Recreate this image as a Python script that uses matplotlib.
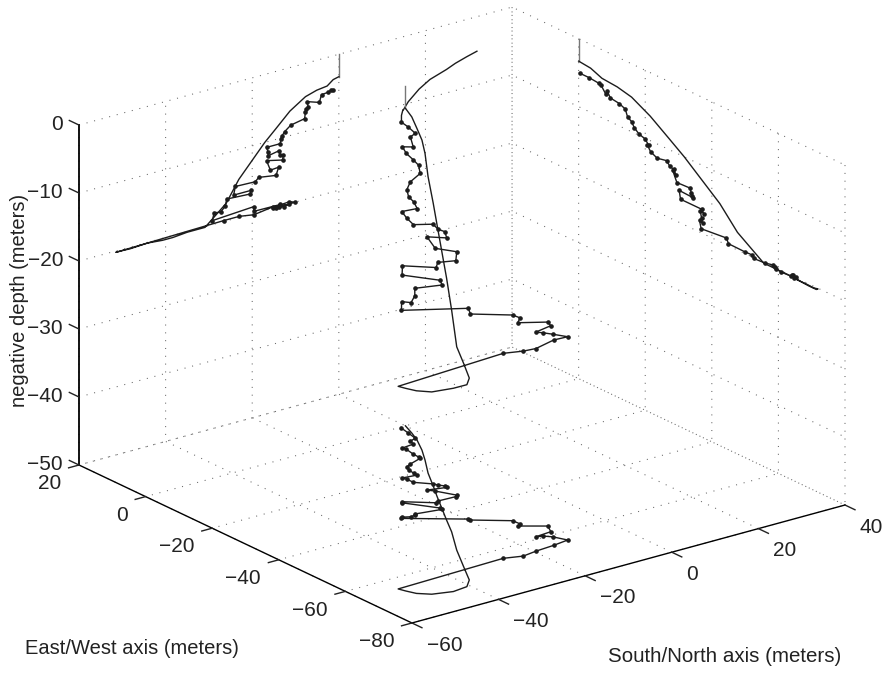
import numpy as np
import matplotlib
matplotlib.use("Agg")
import matplotlib.pyplot as plt
from mpl_toolkits.mplot3d import proj3d

plt.rcParams["font.family"] = ["Liberation Sans", "DejaVu Sans"]

# ticks
sn_ticks = [-60, -40, -20, 0, 20, 40]
ew_ticks = [-80, -60, -40, -20, 0, 20]
depth_ticks = [-50, -40, -30, -20, -10, 0]

# surface drift, only seen in the 3D track
surface_ew = [6.1, 5.0, 3.6, 2.1, -0.1, -2.8, -6.7, -9.5]
surface_sn = [21.2, 18.0, 14.3, 11.1, 5.6, 1.0, -4.5, -7.8]
surface_z = [0, 0, 0, 0, 0, 0, 0, 0]

# descent, smooth line
descent_ew = [0, 0, -3.6, -7, -11.6, -15.9, -21.5, -27.2, -31.7, -42.4,
              -47.7, -55.6, -63, -69, -71.4, -71.9, -70.6, -68.6, -66.5, -64.8]
descent_sn = [0, 0, -1.3, -2.7, -5.1, -7.7, -11.3, -14.5, -17.1, -23.1,
              -26, -30.9, -35, -38.3, -40.7, -44.2, -48.2, -50.2, -51, -51.5]
descent_z = [0, -3.3, -3.5, -4.2, -4.4, -4.9, -6.4, -8.4, -10.0, -14.4,
             -17.4, -20.1, -20.1, -20.3, -20.3, -20.1, -20.25, -20.2, -20.2, -20.2]

# ascent, line with dots
ascent_ew = [-64.0, -65.3, -64.7, -64.3, -63.7, -60.8, -59.4, -58.9, -58.5, -55.9,
             -52.6, -52.0, -49.9, -45.0, -44.4, -36.8, -36.3, -37.2, -36.9, -36.5,
             -37.6, -36.9, -30.6, -30.2, -34.3, -33.8, -34.0, -33.5, -29.5, -28.2,
             -29.3, -28.5, -27.4, -26.4, -23.6, -21.6, -20.6, -21.1, -19.9, -18.1,
             -16.7, -15.9, -14.7, -14.0, -12.2, -9.5, -8.6, -8.2, -6.7, -6.1,
             -3.2, -0.5, -0.5, -0.4]
ascent_sn = [-26.6, -23.0, -19.6, -15.2, -11.5, -12.7, -13.9, -15.2, -11.4, -10.1,
             -14.5, -13.5, -13.6, -19.6, -19.6, -29.2, -28.8, -27.3, -26.2, -25.9,
             -20.5, -20.3, -24.3, -23.9, -19.3, -18.5, -14.5, -13.9, -15.8, -16.7,
             -13.0, -12.8, -13.5, -13.9, -16.3, -16.3, -16.7, -13.5, -13.4, -13.2,
             -12.5, -11.1, -7.9, -7.7, -7.6, -7.1, -7.3, -4.5, -4.0, -2.4,
             -1.8, -1.3, -1.3, -0.9]
ascent_z = [-19.85, -19.85, -20.2, -19.8, -20.1, -20.2, -20.1, -19.9, -19.7, -20.0,
            -20.1, -19.7, -19.75, -19.7, -19.0, -19.4, -18.3, -18.5, -17.75, -16.8,
            -17.0, -16.5, -16.5, -15.3, -15.4, -14.9, -15.3, -14.2, -14.3, -12.75,
            -13.3, -12.6, -12.4, -11.8, -12.1, -11.6, -10.8, -10.8, -10.1, -9.8,
            -9.2, -8.5, -8.1, -7.1, -6.7, -6.5, -5.7, -6.3, -5.25, -5.15,
            -5.0, -5.0, -4.0, -3.3]


def plot_views(ax, ew, sn, z, **style):
    # the track itself, then its shadows on the two back walls and the floor
    ew, sn, z = np.array(ew), np.array(sn), np.array(z)
    ax.plot(sn, ew, z, **style)
    ax.plot(sn, np.full(len(ew), ew_ticks[-1]), z, **style)
    ax.plot(np.full(len(ew), sn_ticks[-1]), ew, z, **style)
    ax.plot(sn, ew, np.full(len(ew), depth_ticks[0]), **style)


def corner_px(ax, sn, ew, z):
    x2, y2, _ = proj3d.proj_transform(sn, ew, z, ax.get_proj())
    return ax.transData.transform((x2, y2))


def fit_axes(fig, ax):
    # move the axes so the floor corners land where they should
    for i in range(2):
        fig.canvas.draw()
        left = corner_px(ax, -60, 20, -50)
        right = corner_px(ax, 40, -80, -50)
        scale = (845 - 79) / (right[0] - left[0])
        pos = ax.get_position(original=True)
        ax.set_position([pos.x0, pos.y0, pos.width * scale, pos.height * scale])
        fig.canvas.draw()
        left = corner_px(ax, -60, 20, -50)
        pos = ax.get_position(original=True)
        ax.set_position([pos.x0 + (79 - left[0]) / 885,
                         pos.y0 + (673 - 465 - left[1]) / 673,
                         pos.width, pos.height])


def tick_text(ticks):
    return [str(t).replace("-", "\u2212") for t in ticks]


fig = plt.figure(figsize=(8.85, 6.73), dpi=100)
ax = fig.add_axes([-0.2, -0.2, 1.4, 1.4], projection="3d", proj_type="ortho")
ax.view_init(elev=21.07, azim=232.85)
ax.set_box_aspect((543.3, 551.3, 364.3))
ax.set_facecolor("none")

tick_color = "#222222"
ax.set_xlim(-60, 40)
ax.set_ylim(-80, 20)
ax.set_zlim(-50, 0)
ax.set_xticks(sn_ticks, tick_text(sn_ticks), ha="left", va="center")
ax.set_yticks(ew_ticks, tick_text(ew_ticks), ha="right", va="center")
ax.set_zticks(depth_ticks, tick_text(depth_ticks), ha="right", va="center")
ax.tick_params(labelsize=15, labelcolor=tick_color)
ax.tick_params(axis="x", pad=5.8)
ax.tick_params(axis="y", pad=4.7)
ax.tick_params(axis="z", pad=-1.5)

for axis in (ax.xaxis, ax.yaxis, ax.zaxis):
    axis.set_pane_color((1, 1, 1, 0))
    axis.pane.set_edgecolor("none")
    axis._axinfo["grid"].update(color="#666666", linewidth=0.75, linestyle=(0, (1, 6.5)))
    axis._axinfo["tick"].update(inward_factor=0, outward_factor=0)
    axis._axinfo["axisline"]["color"] = "#222222"
    axis.line.set_linewidth(1.0)
ax.zaxis._axinfo["axisline"]["color"] = "#555555"
ax.zaxis.line.set_linewidth(1.3)

# tick marks point outward along the other floor axis
for t in sn_ticks:
    ax.plot([t, t], [-80, -83], [-50, -50], color=tick_color, lw=1.0)
for t in ew_ticks:
    ax.plot([-60, -62.4], [t, t], [-50, -50], color=tick_color, lw=1.0)
for t in depth_ticks:
    ax.plot([-60, -60], [20, 22.9], [t, t], color=tick_color, lw=1.0)

ink = "#1c1c1c"
ax.plot(surface_sn, surface_ew, surface_z, color=ink, lw=1.0)
plot_views(ax, descent_ew[:2], descent_sn[:2], descent_z[:2], color="#777777", lw=1.0)
plot_views(ax, descent_ew[1:] + ascent_ew[:1], descent_sn[1:] + ascent_sn[:1],
           descent_z[1:] + ascent_z[:1], color=ink, lw=1.0)
plot_views(ax, ascent_ew[:-2], ascent_sn[:-2], ascent_z[:-2], color=ink, lw=1.0,
           marker="o", markersize=2.3)
# last bit of the ascent only shows on the 3D track
ax.plot(ascent_sn[-3:], ascent_ew[-3:], ascent_z[-3:], color=ink, lw=1.0)

fit_axes(fig, ax)

fig.text(25 / 885, 1 - 648 / 673, "East/West axis (meters)", fontsize=14.5,
         color="#222222", ha="left", va="center")
fig.text(608 / 885, 1 - 657 / 673, "South/North axis (meters)", fontsize=14.8,
         color="#222222", ha="left", va="center")
fig.text(20 / 885, 1 - 300 / 673, "negative depth (meters)", fontsize=14.5,
         color="#222222", rotation=90, ha="center", va="center")

fig.savefig("out.png", dpi=100)
